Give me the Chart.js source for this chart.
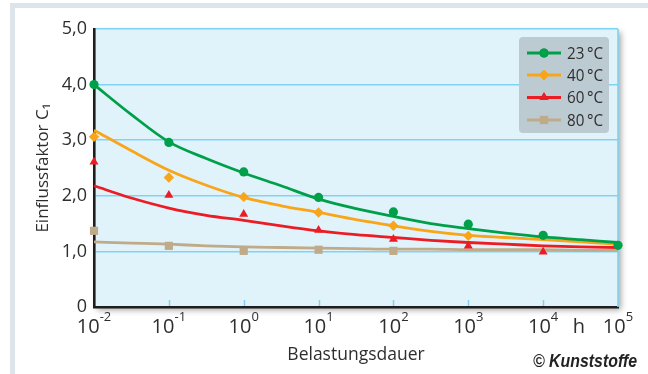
<!DOCTYPE html>
<html><head><meta charset="utf-8">
<script src="https://cdn.jsdelivr.net/npm/chart.js@4.4.1/dist/chart.umd.min.js"></script>
<style>html,body{margin:0;padding:0;background:#fff;overflow:hidden}canvas{display:block}</style>
</head><body>
<canvas id="c" width="648" height="374"></canvas>
<script>
// ---- data ----
const seriesNames = ['23\u2009°C', '40\u2009°C', '60\u2009°C', '80\u2009°C'];
const decades = [0.01, 0.1, 1, 10, 100, 1000, 10000, 100000];
const xTickExponents = ['-2', '-1', '0', '1', '2', '3', '4', '5'];
const xUnit = 'h';
const yTickValues = [0, 1, 2, 3, 4, 5];
// measured points
const meas23 = [4.00, 2.96, 2.43, 1.97, 1.71, 1.49, 1.29, 1.11];
const meas40 = [3.06, 2.33, 1.98, 1.70, 1.46, 1.28, null, null];
const meas60 = [2.61, 2.01, 1.67, 1.38, 1.22, 1.10, 0.99, null];
const meas80 = [1.37, 1.10, 1.01, 1.03, 1.01, null, null, null];
// fitted curves
const curveX = [0.01, 0.0316, 0.1, 0.316, 1, 3.16, 10, 31.6, 100, 316, 1000, 3162, 10000, 31623, 100000];
const fit23 = [4.00, 3.46, 2.97, 2.67, 2.41, 2.18, 1.94, 1.77, 1.63, 1.50, 1.41, 1.33, 1.26, 1.21, 1.16];
const fit40 = [3.18, 2.81, 2.46, 2.19, 1.97, 1.82, 1.70, 1.57, 1.46, 1.36, 1.29, 1.25, 1.21, 1.17, 1.13];
const fit60 = [2.18, 1.96, 1.78, 1.65, 1.56, 1.46, 1.37, 1.30, 1.25, 1.20, 1.16, 1.13, 1.10, 1.08, 1.07];
const fit80 = [1.17, 1.15, 1.13, 1.10, 1.08, 1.07, 1.06, 1.05, 1.04, 1.04, 1.03, 1.03, 1.03, 1.02, 1.02];

const colors = ['#00a04b', '#f9a51a', '#ec1c24', '#bfab8a'];
const pStyles = ['circle', 'rectRot', 'triangle', 'rect'];
const pRadius = [4.6, 5.2, 5.2, 5.8];
const measAll = [meas23, meas40, meas60, meas80];
const fitAll = [fit23, fit40, fit60, fit80];

const FONT = '"Open Sans", "Noto Sans", "DejaVu Sans", sans-serif';
const TXT = '#2e2e2e';

const toPts = (xs, ys) => xs.map((x, i) => ({x, y: ys[i]})).filter(p => p.y !== null);

const datasets = [];
measAll.forEach((m, i) => {
  datasets.push({
    label: seriesNames[i], data: toPts(decades, m), showLine: false,
    pointStyle: pStyles[i], pointRadius: pRadius[i], pointBorderWidth: 0,
    pointBackgroundColor: colors[i], pointBorderColor: colors[i],
    order: 0, clip: false
  });
});
fitAll.forEach((f, i) => {
  datasets.push({
    label: seriesNames[i] + ' fit', data: toPts(curveX, f),
    borderColor: colors[i], borderWidth: 2.8, pointRadius: 0,
    cubicInterpolationMode: 'monotone', order: 1, clip: false
  });
});

const W = 648, H = 374;
const decor = {
  id: 'decor',
  beforeDraw(chart) {
    const {ctx, chartArea: a} = chart;
    ctx.save();
    ctx.fillStyle = '#fff'; ctx.fillRect(0, 0, W, H);
    ctx.fillStyle = '#dde4ea';
    ctx.fillRect(10, 3, W - 10, 5);
    ctx.fillRect(10, 3, 5, H - 3);
    ctx.shadowColor = 'rgba(0,0,0,0.35)'; ctx.shadowBlur = 6;
    ctx.shadowOffsetX = 3; ctx.shadowOffsetY = 3;
    ctx.fillStyle = '#e1f3fa';
    ctx.fillRect(a.left, a.top, a.right - a.left, a.bottom - a.top);
    ctx.restore();
  },
  beforeDatasetsDraw(chart) {
    const {ctx, chartArea: a, scales: {x}} = chart;
    ctx.save();
    ctx.strokeStyle = '#7fd3f2'; ctx.lineWidth = 1.6;
    ctx.beginPath(); ctx.moveTo(a.right, a.top); ctx.lineTo(a.right, a.bottom); ctx.stroke();
    ctx.lineWidth = 1.5;
    decades.forEach((d, i) => {
      if (i === 0 || i === decades.length - 1) return;
      const px = Math.round(x.getPixelForValue(d)) + 0.5;
      ctx.beginPath(); ctx.moveTo(px, a.bottom - 1); ctx.lineTo(px, a.bottom - 7); ctx.stroke();
    });
    ctx.restore();
  },
  afterDraw(chart) {
    const {ctx, chartArea: a, scales: {x}} = chart;
    ctx.save();
    ctx.fillStyle = TXT; ctx.textBaseline = 'alphabetic'; ctx.textAlign = 'left';
    decades.forEach((d, i) => {
      const px = x.getPixelForValue(d);
      ctx.font = '20px ' + FONT; const w1 = ctx.measureText('10').width;
      ctx.font = '13px ' + FONT; const w2 = ctx.measureText(xTickExponents[i]).width;
      const sx = px - (w1 + w2) / 2;
      ctx.font = '20px ' + FONT; ctx.fillText('10', sx, 333);
      ctx.font = '13px ' + FONT; ctx.fillText(xTickExponents[i], sx + w1, 321);
    });
    ctx.font = '20px ' + FONT; ctx.textAlign = 'center';
    ctx.fillText(xUnit, 579, 333);
    // credit
    ctx.font = 'italic bold 18px "Liberation Sans", Arial, sans-serif';
    ctx.fillStyle = '#222'; ctx.textAlign = 'left';
    ctx.fillText('© Kunststoffe', 533, 367, 104);
    // legend
    const lx = 519, ly = 37, lw = 90, lh = 96;
    ctx.fillStyle = '#bccad2';
    ctx.beginPath(); ctx.roundRect(lx, ly, lw, lh, 4); ctx.fill();
    const rows = [53, 75, 97.5, 120];
    seriesNames.forEach((n, i) => {
      const yy = rows[i];
      ctx.strokeStyle = colors[i]; ctx.lineWidth = 2.8;
      ctx.beginPath(); ctx.moveTo(527, yy); ctx.lineTo(561, yy); ctx.stroke();
      ctx.fillStyle = colors[i];
      Chart.helpers.drawPoint(ctx, {pointStyle: pStyles[i], radius: pRadius[i], rotation: 0, borderWidth: 0}, 544, yy);
      ctx.fill();
      ctx.fillStyle = TXT; ctx.font = '17px ' + FONT; ctx.textBaseline = 'middle';
      ctx.fillText(n, 567, yy + 1, 36);
    });
    ctx.restore();
  }
};

new Chart(document.getElementById('c'), {
  type: 'line',
  data: {datasets},
  options: {
    responsive: false, animation: false, devicePixelRatio: 1,
    layout: {padding: {top: 29, right: 30, left: 0, bottom: 0}},
    plugins: {legend: {display: false}, tooltip: {enabled: false}},
    scales: {
      x: {
        type: 'logarithmic', min: 0.01, max: 100000,
        grid: {display: false},
        border: {display: true, color: '#1e1e1e', width: 2.6},
        ticks: {display: false},
        title: {display: true, text: 'Belastungsdauer', color: TXT,
                font: {family: FONT, size: 17.5}, padding: {top: 0, bottom: 8}},
        afterFit(s) { s.height = 67; }
      },
      y: {
        min: 0, max: 5,
        afterBuildTicks(s) { s.ticks = yTickValues.map(v => ({value: v})); },
        grid: {color: '#80d4f3', lineWidth: 1.5, drawTicks: false},
        border: {display: true, color: '#1e1e1e', width: 2.6},
        ticks: {color: TXT, padding: 7, font: {family: FONT, size: 18},
                callback: v => v === 0 ? '0' : v.toFixed(1).replace('.', ',')},
        title: {display: true, text: 'Einflussfaktor C\u2081', color: TXT,
                font: {family: FONT, size: 17}, padding: {top: 33, bottom: 0}},
        afterFit(s) { s.width = 94; }
      }
    }
  },
  plugins: [decor]
});
</script>
</body></html>
